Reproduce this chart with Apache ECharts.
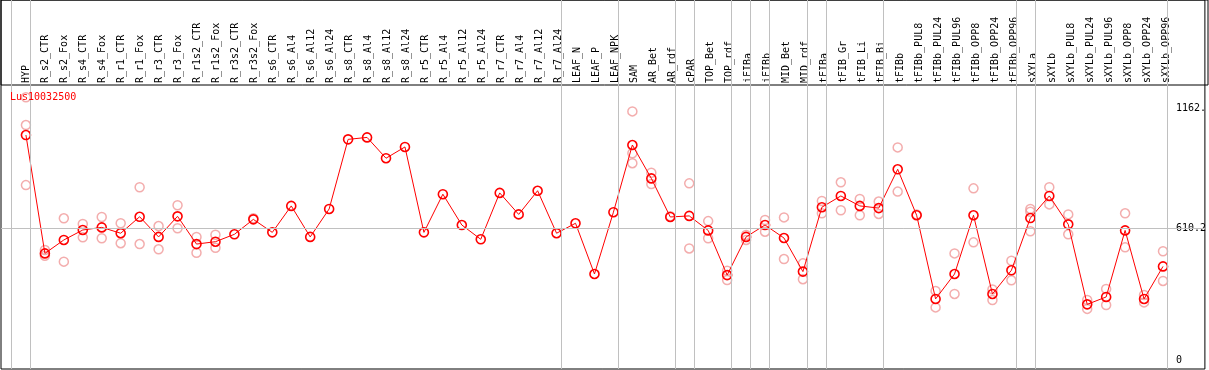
<!DOCTYPE html>
<html>
<head>
<meta charset="utf-8">
<script src="https://cdn.jsdelivr.net/npm/echarts@6/dist/echarts.min.js"></script>
<style>
html,body{margin:0;padding:0;background:#fff;}
#chart{width:1209px;height:370px;}
</style>
</head>
<body>
<div id="chart"></div>
<script>
// ---- data ----
const title = 'Lus10032500';
const categories = ['HYP','R_s2_CTR','R_s2_Fox','R_s4_CTR','R_s4_Fox','R_r1_CTR','R_r1_Fox','R_r3_CTR','R_r3_Fox','R_r1s2_CTR','R_r1s2_Fox','R_r3s2_CTR','R_r3s2_Fox','R_s6_CTR','R_s6_Al4','R_s6_Al12','R_s6_Al24','R_s8_CTR','R_s8_Al4','R_s8_Al12','R_s8_Al24','R_r5_CTR','R_r5_Al4','R_r5_Al12','R_r5_Al24','R_r7_CTR','R_r7_Al4','R_r7_Al12','R_r7_Al24','LEAF_N','LEAF_P','LEAF_NPK','SAM','AR_Bet','AR_rdf','cPAR','TOP_Bet','TOP_rdf','iFIBa','iFIBb','MID_Bet','MID_rdf','tFIBa','tFIB_Gr','tFIB_Li','tFIB_Bi','tFIBb','tFIBb_PUL8','tFIBb_PUL24','tFIBb_PUL96','tFIBb_OPP8','tFIBb_OPP24','tFIBb_OPP96','sXYLa','sXYLb','sXYLb_PUL8','sXYLb_PUL24','sXYLb_PUL96','sXYLb_OPP8','sXYLb_OPP24','sXYLb_OPP96'];
const means = [1040,494,556,602,614,587,663,570,665,537,548,582,651,591,713,570,699,1020,1029,933,985,591,767,625,559,773,674,783,587,633,399,684,994,840,662,667,600,394,570,625,565,410,707,759,713,703,882,670,284,399,670,307,416,657,759,628,259,293,600,284,434];
const repA = [1214,510,656,630,662,633,799,620,716,570,580,null,656,null,null,null,null,null,null,null,null,null,null,null,null,null,null,null,null,null,null,null,1149,866,665,817,643,414,579,648,660,448,736,822,745,733,983,673,321,494,794,328,460,699,799,674,279,330,679,302,504];
const repB = [809,483,456,568,564,541,537,513,610,497,520,null,null,null,null,null,null,null,null,null,null,null,null,null,null,null,null,null,null,null,null,null,910,814,null,517,564,371,556,594,468,375,679,693,670,676,779,null,245,307,545,279,370,596,720,582,238,256,522,268,367];
const repC = [1086,null,null,null,null,null,null,null,null,null,null,null,null,null,null,null,null,null,null,null,null,null,null,null,null,null,null,null,null,null,null,null,956,null,null,null,null,null,null,null,null,null,null,null,null,null,null,null,null,null,null,null,null,686,null,null,null,null,null,null,null];
const yTickValues = [0, 610.2, 1162];
const yTickLabels = ['0', '610.2', '1162.'];
const refLineValue = 610.2;
const groupEndsAfter = [-1,0,28,31,34,35,37,38,39,41,42,45,52,53,60];

// ---- chart ----
const MONO = 'DejaVu Sans Mono';
const toXY = arr => arr.map((v, i) => [i, v]).filter(p => p[1] !== null);
const repStyle = {
  type: 'scatter', xAxisIndex: 0, yAxisIndex: 0, symbol: 'circle', symbolSize: 9, z: 2,
  itemStyle: { color: 'rgba(0,0,0,0)', borderColor: '#f09898', borderWidth: 1.5 },
  silent: true
};

const chart = echarts.init(document.getElementById('chart'), null, { renderer: 'canvas' });
chart.setOption({
  animation: false,
  backgroundColor: '#fff',
  title: {
    text: title, left: 10, top: 92, padding: 0,
    textStyle: { color: '#ff0000', fontSize: 10, fontFamily: MONO, fontWeight: 'normal' }
  },
  grid: [
    { left: 1, right: 1, top: 0, bottom: 1, show: true, borderColor: '#000', borderWidth: 1, backgroundColor: 'transparent' },
    { left: 1, right: 1, top: 0, height: 85, show: true, borderColor: '#000', borderWidth: 1, backgroundColor: 'transparent' },
    { left: 16.5, width: 61 * 19, top: 0, height: 85 }
  ],
  xAxis: [
    { type: 'value', gridIndex: 0, min: -25 / 19, max: 1182 / 19, show: false },
    { type: 'value', gridIndex: 1, show: false },
    { type: 'category', gridIndex: 2, data: categories, position: 'bottom', boundaryGap: true,
      axisLine: { show: false }, axisTick: { show: false }, splitLine: { show: false },
      axisLabel: { inside: true, rotate: 90, interval: 0, fontSize: 10, fontFamily: MONO, color: '#000', margin: 2 } }
  ],
  yAxis: [
    { type: 'value', gridIndex: 0, min: -39.2, max: 1662.8, position: 'right', offset: -31,
      axisLine: { show: false }, axisTick: { show: false }, splitLine: { show: false },
      axisLabel: { customValues: yTickValues, margin: 2, fontSize: 10, fontFamily: MONO, color: '#000',
        padding: [3, 0, 0, 0],
        formatter: v => { const k = yTickValues.indexOf(v); return k >= 0 ? yTickLabels[k] : ''; } } },
    { type: 'value', gridIndex: 1, show: false },
    { type: 'value', gridIndex: 2, show: false }
  ],
  series: [
    Object.assign({ data: toXY(repA) }, repStyle),
    Object.assign({ data: toXY(repB) }, repStyle),
    Object.assign({ data: toXY(repC) }, repStyle),
    {
      type: 'line', xAxisIndex: 0, yAxisIndex: 0,
      data: toXY(means),
      symbol: 'circle', symbolSize: 9,
      lineStyle: { color: '#ff0000', width: 1 },
      itemStyle: { color: 'rgba(0,0,0,0)', borderColor: '#ff0000', borderWidth: 1.6 },
      markLine: {
        silent: true, symbol: 'none', animation: false,
        label: { show: false },
        lineStyle: { color: '#c0c0c0', width: 1, type: 'solid' },
        emphasis: { disabled: true },
        data: groupEndsAfter.map(k => ({ xAxis: k + 0.24 })).concat([{ yAxis: refLineValue }])
      },
      z: 3
    }
  ]
});
</script>
</body>
</html>
